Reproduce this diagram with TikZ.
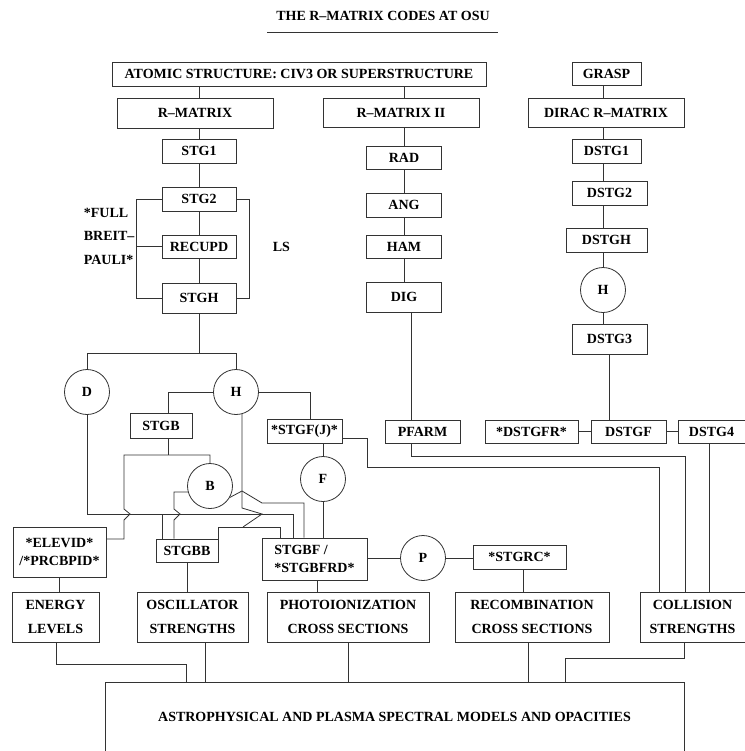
\documentclass[tikz,border=0pt]{standalone}
\usepackage{fontspec}
\setmainfont{Liberation Serif}
\usetikzlibrary{calc}

\begin{document}
\begin{tikzpicture}[x=0.75pt, y=-0.75pt, line width=0.6pt, color=black!80,
    every node/.style={text=black, font=\fontsize{10.5}{13}\selectfont\bfseries},
    box/.style={draw, rectangle, inner sep=1pt, align=center},
    sz/.style 2 args={minimum width=#1*0.75pt, minimum height=#2*0.75pt},
    circ/.style={draw, circle, inner sep=0pt, minimum size=45*0.75pt},
    tall/.style={font=\fontsize{10.5}{18}\selectfont\bfseries}]

     \useasboundingbox (0,0) rectangle (745,751);

     \node (title) at (383,16) {THE R--MATRIX CODES AT OSU};
     \draw (267,32) -- (498,32);

     % top row
     \node[box, sz={374}{24}] (atomic) at (299,74) {ATOMIC STRUCTURE: CIV3 OR SUPERSTRUCTURE};
     \node[box, sz={69}{23}] (grasp) at (606.5,73.5) {GRASP};
     \node[box, sz={156}{30}] (rmat) at (195,113) {R--MATRIX};
     \node[box, sz={156}{29}] (rmat2) at (401,112.5) {R--MATRIX II};
     \node[box, sz={156}{29}] (dirac) at (606,112.5) {DIRAC R--MATRIX};

     % LS / BP chain
     \node[box, sz={74}{24}] (stg1) at (199,151) {STG1};
     \node[box, sz={74}{24}] (stg2) at (199,199) {STG2};
     \node[box, sz={74}{23}] (recupd) at (199,246.5) {RECUPD};
     \node[box, sz={74}{30}] (stgh) at (199,298) {STGH};
     \node[anchor=west, align=left, font=\fontsize{10.5}{17.6}\selectfont\bfseries] (bp) at (79,236) {*FULL\\BREIT--\\PAULI*};
     \node[anchor=west] (ls) at (268,247) {LS};

     % R-MATRIX II chain
     \node[box, sz={75}{23}] (rad) at (404,157.5) {RAD};
     \node[box, sz={75}{24}] (ang) at (404,205) {ANG};
     \node[box, sz={75}{23}] (ham) at (404,246.5) {HAM};
     \node[box, sz={75}{30}] (dig) at (404,297) {DIG};
     \node[box, sz={75}{23}] (pfarm) at (422.5,431.5) {PFARM};

     % Dirac chain
     \node[box, sz={69}{24}] (dstg1) at (606.5,151) {DSTG1};
     \node[box, sz={75}{24}] (dstg2) at (609.5,193) {DSTG2};
     \node[box, sz={81}{24}] (dstgh) at (606.5,240) {DSTGH};
     \node[circ] (hr) at (603,290) {H};
     \node[box, sz={75}{30}] (dstg3) at (609.5,339) {DSTG3};
     \node[box, sz={93}{23}] (dstgfr) at (531.5,431.5) {*DSTGFR*};
     \node[box, sz={75}{23}] (dstgf) at (628.5,431.5) {DSTGF};
     \node[box, sz={67}{23}] (dstg4) at (711.5,431.5) {DSTG4};

     % outer region
     \node[circ] (dc) at (87,392) {D};
     \node[circ] (hl) at (236,392) {H};
     \node[box, sz={62}{25}] (stgb) at (161,425.5) {STGB};
     \node[box, sz={75}{24}] (stgfj) at (304.5,431) {*STGF(J)*};
     \node[circ] (bc) at (210,486) {B};
     \node[circ] (fc) at (323,479) {F};
     \node[box, sz={93}{50}] (elevid) at (59.5,552) {*ELEVID*\\/*PRCBPID*};
     \node[box, sz={62}{23}] (stgbb) at (187,550.5) {STGBB};
     \node[box, sz={105}{42}, align=left, font=\fontsize{10.5}{14}\selectfont\bfseries] (stgbf) at (314.5,559) {STGBF /\\*STGBFRD*};
     \node[circ] (pc) at (423,558) {P};
     \node[box, sz={93}{24}] (stgrc) at (519.5,557) {*STGRC*};

     % results
     \node[box, tall, sz={87}{50}] (energy) at (55.5,617) {ENERGY\\LEVELS};
     \node[box, tall, sz={111}{50}] (osc) at (192.5,617) {OSCILLATOR\\STRENGTHS};
     \node[box, tall, sz={162}{50}] (photo) at (348,617) {PHOTOIONIZATION\\CROSS SECTIONS};
     \node[box, tall, sz={154}{50}] (recomb) at (532,617) {RECOMBINATION\\CROSS SECTIONS};
     \node[box, tall, sz={105}{50}] (coll) at (692.5,617) {COLLISION\\STRENGTHS};
     \node[box, sz={579}{70}] (astro) at (394.5,717) {ASTROPHYSICAL AND PLASMA SPECTRAL MODELS AND OPACITIES};

     % chains
     \draw (atomic.south -| stg1) -- (rmat.north -| stg1);
     \draw (atomic.south -| rad) -- (rmat2.north -| rad);
     \foreach \a/\b in {rmat/stg1, stg1/stg2, stg2/recupd, recupd/stgh}
        \draw (\a.south -| stg1) -- (\b.north -| stg1);
     \foreach \a/\b in {rmat2/rad, rad/ang, ang/ham, ham/dig}
        \draw (\a.south -| rad) -- (\b.north -| rad);
     \foreach \a/\b in {grasp/dirac, dirac/dstg1, dstg1/dstg2, dstg2/dstgh, dstgh/hr, hr/dstg3}
        \draw (\a.south -| hr) -- (\b.north -| hr);

     \draw (stg2.west) -- ++(-25,0) |- (stgh.west);
     \draw (recupd.west) -- ++(-25,0);
     \draw (stg2.east) -- ++(13,0) |- (stgh.east);

     \draw (stgh.south) -- ++(0,40) coordinate (split);
     \draw (dc.north) |- (split) -| (hl.north);
     \draw (hl.west) -| (stgb.north -| 168,0);
     \draw (hl.east) -| (stgfj.north -| 310,0);

     % crossings in the middle
     \draw (stgb.south -| 168,0) -- (168,455);
     \draw (elevid.east |- 0,539) -| (124,520) -- ++(6,-6) -- ++(-6,-5) |- (bc.north |- 0,455) -- (bc.north);
     \draw (dc.south) |- (293,514) -- (stgbf.north -| 293,0);
     \draw (162,514) -- (stgbb.north -| 162,0);
     \draw (bc.195) -| (174,509) -- ++(6,5) -- ++(-6,6) -- (stgbb.north -| 174,0);
     \draw (bc.-30) -- (242,491) -- (262,503) -| (stgbf.north -| 304,0);
     \draw (hl.-75) -- (242,508) -- (262,514) -- (243,527);
     \draw (stgbb.north east) |- (280,527) -- (stgbf.north -| 280,0);
     \draw (stgfj.south -| fc) -- (fc.north);
     \draw (fc.south) -- (stgbf.north -| fc);
     \draw (stgbf.east |- pc) -- (pc.west);
     \draw (pc.east) -- (stgrc.west |- pc);

     % to collision strengths
     \draw (stgfj.east |- 0,438) -| (367,467) -| (coll.north -| 659,0);
     \draw (dig.south -| 411,0) -- (pfarm.north -| 411,0);
     \draw (pfarm.south -| 411,0) |- (685,456) -- (coll.north -| 685,0);
     \draw (dstg3.south -| 609,0) -- (dstgf.north -| 609,0);
     \draw (dstgfr) -- (dstgf);
     \draw (dstgf) -- (dstg4);
     \draw (dstg4.south -| 709,0) -- (coll.north -| 709,0);

     % results
     \draw (elevid.south) -- (energy.north -| elevid.south);
     \draw (stgbb.south) -- (osc.north -| stgbb.south);
     \draw (stgbf.south -| 317,0) -- (photo.north -| 317,0);
     \draw (stgrc.south -| 523,0) -- (recomb.north -| 523,0);
     \draw (energy.south -| 56,0) |- (186,664) -- (astro.north -| 186,0);
     \draw (osc.south -| 205,0) -- (astro.north -| 205,0);
     \draw (photo.south) -- (astro.north -| photo);
     \draw (recomb.south -| 528,0) -- (astro.north -| 528,0);
     \draw (coll.south -| 684,0) |- (565,658) -- (astro.north -| 565,0);
\end{tikzpicture}
\end{document}
